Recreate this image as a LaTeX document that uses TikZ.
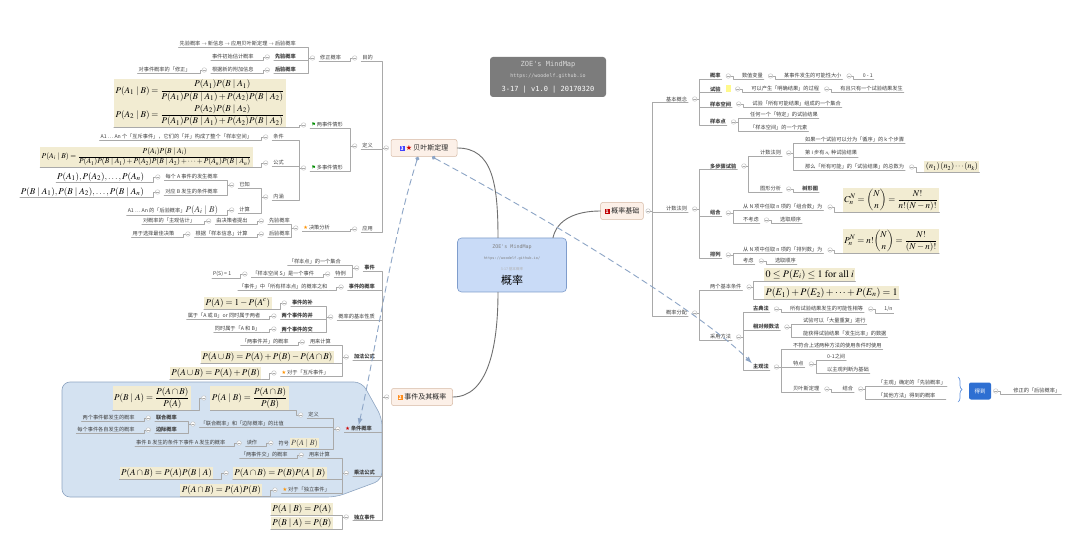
\documentclass[tikz,border=0pt]{standalone}
\usepackage{amsmath}
\usepackage{mathptmx}
\usepackage[no-math]{fontspec}
\setmainfont{Noto Sans CJK SC}
\newfontfamily\symf{DejaVu Sans}
\newfontfamily\monof{DejaVu Sans Mono}
\usetikzlibrary{positioning,arrows.meta,decorations.pathreplacing}

\definecolor{fmlbg}{HTML}{F2ECD2}
\definecolor{rootbg}{HTML}{C9DBF7}
\definecolor{rootbd}{HTML}{7F9DCC}
\definecolor{topbg}{HTML}{FCF0E8}
\definecolor{topbd}{HTML}{D6B9A4}
\definecolor{lnkc}{HTML}{A9A9A9}
\definecolor{curvec}{HTML}{6F6F6F}
\definecolor{dashc}{HTML}{8DA5C6}
\definecolor{zonebg}{HTML}{D4E2F1}
\definecolor{zonebd}{HTML}{8EA5C1}
\definecolor{logobg}{HTML}{7C7C7C}
\definecolor{getbg}{HTML}{2E6FD2}

\newcommand{\badge}[2]{{\setlength{\fboxsep}{1pt}\colorbox{#1}{\textcolor{white}{\fontsize{5}{5}\selectfont\bfseries #2}}}}
\newcommand{\rstar}{\textcolor{red!80!black}{\symf ★}}
\newcommand{\ystar}{\textcolor{orange!85!yellow}{\symf ★}}
\newcommand{\gflag}{\textcolor{green!55!black}{\symf ⚑}}

\tikzset{
  lnk/.style={draw=lnkc, line width=0.45pt},
  tp/.style={font=\fontsize{5.2}{6}\selectfont, text=black!75, inner sep=1pt,
    append after command={(\tikzlastnode.south west) edge[lnk] (\tikzlastnode.south east)}},
  tb/.style={tp, font=\fontsize{5.2}{6}\selectfont\bfseries},
  fm/.style={tp, text=black, font=\fontsize{9}{10}\selectfont},
  fml/.style={tp, fill=fmlbg, inner sep=1.5pt, text=black, font=\fontsize{9}{10}\selectfont},
  fold/.style={circle, draw=gray!55, fill=white, inner sep=0pt, minimum size=4.6pt,
    path picture={\draw[gray!65, line width=0.35pt]
      ([xshift=-1.3pt]path picture bounding box.center) -- ([xshift=1.3pt]path picture bounding box.center);}},
  topic/.style={draw=topbd, fill=topbg, rounded corners=2pt, line width=0.5pt,
    font=\fontsize{7}{8}\selectfont, text=black!85, inner xsep=4pt, minimum height=17pt},
  root/.style={draw=rootbd, fill=rootbg, rounded corners=4pt, line width=0.6pt,
    minimum width=109pt, minimum height=54pt, align=center, inner sep=1pt},
  logo/.style={fill=logobg, rounded corners=3pt, minimum width=116pt, minimum height=40pt,
    align=center, font=\monof, text=gray!30},
  get/.style={fill=getbg, text=white, rounded corners=2pt, minimum width=22pt,
    minimum height=17pt, font=\fontsize{5.5}{6}\selectfont},
  curve/.style={draw=curvec, line width=0.9pt},
  ref/.style={draw=dashc, line width=0.9pt, dash pattern=on 6pt off 4pt,
    arrows={Circle[length=4pt]-Latex[length=7pt,width=5pt]}},
}

\begin{document}
\begin{tikzpicture}[x=1pt, y=-1pt, line cap=round, line join=round]
\path[use as bounding box, fill=white] (0,0) rectangle (1080,556);

% Vùng nền xanh (条件概率, 乘法公式)
\draw[draw=zonebd, fill=zonebg, line width=0.6pt, rounded corners=8pt]
  (62,382) -- (362,382) -- (382,418) -- (382,480) -- (336,497) -- (62,497) -- cycle;

% Logo
\node[logo] (wm) at (548,77) {{\fontsize{7}{8}\selectfont ZOE's MindMap}\\[-1pt]
  {\fontsize{5}{6}\selectfont https://woodelf.github.io}\\[2pt]
  {\fontsize{7}{8}\selectfont\color{white} 3-17 | v1.0 | 20170320}};

% Nút trung tâm và các nhánh chính
\node[root] (gl0) at (512,265) {{\monof\fontsize{5}{6}\selectfont\color{gray} ZOE's MindMap}\\[-1pt]
  {\monof\fontsize{3.6}{4.5}\selectfont\color{gray} https://woodelf.github.io/}\\[-1pt]
  {\fontsize{3.6}{4.5}\selectfont\color{gray!60} 3-17 基本概率}\\[2pt]
  {\fontsize{11}{12}\selectfont 概率}};
\node[topic] (jc) at (622,211) {\badge{red!75!black}{1}\ 概率基础};
\node[topic, minimum width=66pt] (bys) at (424,148) {\badge{blue!75}{3}\,\rstar\,贝叶斯定理};
\node[topic, minimum width=61pt] (sj0) at (422,397) {\badge{orange!90}{2}\ 事件及其概率};

% ===== 概率基础 =====
\node[fold, right=2pt of jc] (fjc) {};
\node[tp, anchor=west] (jbgn) at (665,99) {基本概念};
\node[tp, anchor=west] (jsfz) at (665,209) {计数法则};
\node[tp, anchor=west] (glfp) at (665,313) {概率分配};

% 基本概念
\node[fold, right=4pt of jbgn] (fjbgn) {};
\node[tb, anchor=west] (gl) at (709,76) {概率};
\node[tb, anchor=west] (sy) at (709,89) {试验};
\node[tb, anchor=west] (ybkj) at (709,104) {样本空间};
\node[tb, anchor=west] (ybd) at (709,122) {样本点};
\node[fold, right=4pt of gl] (fgl) {};
\node[tp, right=10pt of fgl] (slbl) {数值变量};
\node[fold, right=4pt of slbl] (fslbl) {};
\node[tp, right=10pt of fslbl] (knx) {某事件发生的可能性大小};
\node[fold, right=4pt of knx] (fknx) {};
\node[tp, right=10pt of fknx] (lyi) {0 - 1};
\node[fill=yellow!45, inner sep=0pt, minimum width=5pt, minimum height=7pt, right=4pt of sy] (syb) {};
\node[fold, right=4pt of syb] (fsy) {};
\node[tp, right=10pt of fsy] (mqjg) {可以产生「明确结果」的过程};
\node[fold, right=4pt of mqjg] (fmqjg) {};
\node[tp, right=10pt of fmqjg] (yqzy) {有且只有一个试验结果发生};
\node[fold, right=4pt of ybkj] (fybkj) {};
\node[tp, right=10pt of fybkj] (kjjh) {试验「所有可能结果」组成的一个集合};
\node[fold, right=4pt of ybd] (fybd) {};
\node[tp, anchor=west] (tdjg) at (749,115) {任何一个「特定」的试验结果};
\node[tp, anchor=west] (yys) at (749,128) {「样本空间」的一个元素};

% 计数法则
\node[fold, right=4pt of jsfz] (fjsfz) {};
\node[tb, anchor=west] (dbz) at (709,166) {多步骤试验};
\node[tb, anchor=west] (zh) at (709,213) {组合};
\node[tb, anchor=west] (pl) at (709,255) {排列};
\node[fold, right=4pt of dbz] (fdbz) {};
\node[tp, anchor=west] (jsfz2) at (759,153) {计数法则};
\node[tp, anchor=west] (txfx) at (759,189) {图形分析};
\node[fold, right=4pt of jsfz2] (fjsfz2) {};
\node[tp, anchor=west] (kbz) at (804,140) {如果一个试验可以分为「循序」的 k 个步骤};
\node[tp, anchor=west] (nzj) at (804,153) {第 i 步有 $n_i$ 种试验结果};
\node[tp, anchor=west] (zs) at (804,167) {那么「所有可能」的「试验结果」的总数为};
\node[fold, right=4pt of zs] (fzs) {};
\node[fml, right=10pt of fzs, font=\fontsize{8}{9}\selectfont] (nk) {$(n_1)\,(n_2)\cdots(n_k)$};
\node[fold, right=4pt of txfx] (ftxfx) {};
\node[tb, right=10pt of ftxfx] (sxt) {树形图};
\node[fold, right=4pt of zh] (fzh) {};
\node[tp, anchor=west] (zhs) at (742,207) {从 N 项中任取 n 项的「组合数」为};
\node[tp, anchor=west] (bkl) at (742,220) {不考虑};
\node[fold, right=4pt of zhs] (fzhs) {};
\node[fml, right=10pt of fzhs, yshift=7pt] (czh) {$\displaystyle C_n^N=\binom{N}{n}=\frac{N!}{n!(N-n)!}$};
\node[fold, right=4pt of bkl] (fbkl) {};
\node[tp, right=10pt of fbkl] (sx1) {选取顺序};
\node[fold, right=4pt of pl] (fpl) {};
\node[tp, anchor=west] (pls) at (742,250) {从 N 项中任取 n 项的「排列数」为};
\node[tp, anchor=west] (kl) at (742,261) {考虑};
\node[fold, right=4pt of pls] (fpls) {};
\node[fml, right=10pt of fpls, yshift=9pt] (ppl) {$\displaystyle P_n^N=n!\binom{N}{n}=\frac{N!}{(N-n)!}$};
\node[fold, right=4pt of kl] (fkl) {};
\node[tp, right=10pt of fkl] (sx2) {选取顺序};

% 概率分配
\node[fold, right=4pt of glfp] (fglfp) {};
\node[tp, anchor=west] (ljtj) at (709,287) {两个基本条件};
\node[tp, anchor=west] (cyff) at (709,337) {采用方法};
\node[fold, right=4pt of ljtj] (fljtj) {};
\node[fml, anchor=west, font=\fontsize{10}{11}\selectfont] (tj1) at (764,275) {$0\le P(E_i)\le 1\ \mathrm{for\ all}\ i$};
\node[fml, anchor=west, font=\fontsize{10}{11}\selectfont] (tj2) at (764,293) {$P(E_1)+P(E_2)+\cdots+P(E_n)=1$};
\node[fold, right=4pt of cyff] (fcyff) {};
\node[tb, anchor=west] (gdf) at (752,309) {古典法};
\node[tb, anchor=west] (xdps) at (752,327) {相对频数法};
\node[tb, anchor=west] (zgf) at (752,367) {主观法};
\node[fold, right=4pt of gdf] (fgdf) {};
\node[tp, right=10pt of fgdf] (knxd) {所有试验结果发生的可能性相等};
\node[fold, right=4pt of knxd] (fknxd) {};
\node[tp, right=10pt of fknxd] (yfn) {1/n};
\node[fold, right=4pt of xdps] (fxdps) {};
\node[tp, anchor=west] (dlcf) at (802,321) {试验可以「大量重复」进行};
\node[tp, anchor=west] (fsbl) at (802,334) {能获得试验结果「发生比率」的数据};
\node[fold, right=4pt of zgf] (fzgf) {};
\node[tp, anchor=west] (bfh) at (792,346) {不符合上述两种方法的使用条件时使用};
\node[tp, anchor=west] (td) at (792,364) {特点};
\node[tp, anchor=west] (bys2) at (792,389) {贝叶斯定理};
\node[fold, right=4pt of td] (ftd) {};
\node[tp, anchor=west] (lyj) at (826,357) {0-1之间};
\node[tp, anchor=west] (zgpd) at (826,370) {以主观判断为基础};
\node[fold, right=4pt of bys2] (fbys2) {};
\node[tp, right=12pt of fbys2] (jh) {结合};
\node[fold, right=4pt of jh] (fjh) {};
\node[tp, anchor=west] (xygl) at (877,383) {「主观」确定的「先验概率」};
\node[tp, anchor=west] (qtff) at (877,396) {「其他方法」得到的概率};
\coordinate (bre) at (946,390);
\coordinate (brt) at (958,377);
\coordinate (brb) at (958,402);
\draw[lnk] (xygl.south east) -- (xygl.south east -| bre);
\draw[lnk] (qtff.south east) -- (qtff.south east -| bre);
\draw[decorate, decoration={brace, amplitude=4pt}, draw=getbg!75, line width=0.7pt] (brt) -- (brb);
\node[get] (dd) at (980,391) {得到};
\node[fold, right=2pt of dd] (fdd) {};
\node[tp, right=14pt of fdd] (hygl) {修正的「后验概率」};

% Nối nhánh phải
\foreach \a/\b in {fjc/jbgn,fjc/jsfz,fjc/glfp,fjbgn/gl,fjbgn/sy,fjbgn/ybkj,fjbgn/ybd,
    fgl/slbl,fslbl/knx,fknx/lyi,fsy/mqjg,fmqjg/yqzy,fybkj/kjjh,fybd/tdjg,fybd/yys,
    fjsfz/dbz,fjsfz/zh,fjsfz/pl,fdbz/jsfz2,fdbz/txfx,fjsfz2/kbz,fjsfz2/nzj,fjsfz2/zs,
    fzs/nk,ftxfx/sxt,fzh/zhs,fzh/bkl,fzhs/czh,fbkl/sx1,fpl/pls,fpl/kl,fpls/ppl,fkl/sx2,
    fglfp/ljtj,fglfp/cyff,fljtj/tj1,fljtj/tj2,fcyff/gdf,fcyff/xdps,fcyff/zgf,fgdf/knxd,
    fknxd/yfn,fxdps/dlcf,fxdps/fsbl,fzgf/bfh,fzgf/td,fzgf/bys2,ftd/lyj,ftd/zgpd,
    fbys2/jh,fjh/xygl,fjh/qtff,fdd/hygl}
  \draw[lnk] (\a.east) -- ++(2,0) |- (\b.south west);

% ===== 贝叶斯定理 =====
\node[fold, left=2pt of bys] (fbys) {};
\node[tp, anchor=east] (md) at (374,58) {目的};
\node[tp, anchor=east] (dy) at (374,146) {定义};
\node[tp, anchor=east] (yy) at (374,229) {应用};
\node[fold, left=4pt of md] (fmd) {};
\node[tp, left=10pt of fmd] (xzgl) {修正概率};
\node[fold, left=4pt of xzgl] (fxzgl) {};
\node[tp, anchor=east] (lc) at (297,44) {先验概率 $\to$ 新信息 $\to$ 应用贝叶斯定理 $\to$ 后验概率};
\node[tb, anchor=east] (xy1) at (297,57) {先验概率};
\node[tb, anchor=east] (hy1) at (297,70) {后验概率};
\node[fold, left=4pt of xy1] (fxy1) {};
\node[tp, left=10pt of fxy1] (csgj) {事件初始估计概率};
\node[fold, left=4pt of hy1] (fhy1) {};
\node[tp, left=10pt of fhy1] (fjxx) {根据新的附加信息};
\node[fold, left=4pt of fjxx] (ffjxx) {};
\node[tp, left=10pt of ffjxx] (xzh) {对事件概率的「修正」};

\node[fold, left=4pt of dy] (fdy) {};
\node[tp, anchor=east] (lsj) at (344,125) {\gflag\,两事件情形};
\node[tp, anchor=east] (dsj) at (344,168) {\gflag\,多事件情形};
\node[fold, left=4pt of lsj] (flsj) {};
\node[fml, anchor=east, align=left, font=\fontsize{9}{10}\selectfont] (lsjf) at (286,103)
  {$\displaystyle P(A_1\mid B)=\frac{P(A_1)P(B\mid A_1)}{P(A_1)P(B\mid A_1)+P(A_2)P(B\mid A_2)}$\\[2pt]
   $\displaystyle P(A_2\mid B)=\frac{P(A_2)P(B\mid A_2)}{P(A_1)P(B\mid A_1)+P(A_2)P(B\mid A_2)}$};
\node[fold, left=4pt of dsj] (fdsj) {};
\node[tp, anchor=east] (tj) at (285,137) {条件};
\node[tp, anchor=east] (gs) at (285,163) {公式};
\node[tp, anchor=east] (nh) at (285,197) {内涵};
\node[fold, left=4pt of tj] (ftj) {};
\node[tp, left=10pt of ftj] (hcsj) {A1 … An 个「互斥事件」，它们的「并」构成了整个「样本空间」};
\node[fold, left=4pt of gs] (fgs) {};
\node[fml, left=10pt of fgs, yshift=6pt, font=\fontsize{7.5}{8.5}\selectfont] (gsf)
  {$\displaystyle P(A_i\mid B)=\frac{P(A_i)P(B\mid A_i)}{P(A_1)P(B\mid A_1)+P(A_2)P(B\mid A_2)+\cdots+P(A_n)P(B\mid A_n)}$};
\node[fold, left=4pt of nh] (fnh) {};
\node[tp, anchor=east] (yz) at (251,185) {已知};
\node[tp, anchor=east] (js) at (251,210) {计算};
\node[fold, left=4pt of yz] (fyz) {};
\node[tp, anchor=east] (mgA) at (219,177) {每个 A 事件的发生概率};
\node[tp, anchor=east] (dyB) at (219,192) {对应 B 发生的条件概率};
\node[fold, left=4pt of mgA] (fmgA) {};
\node[fm, left=10pt of fmgA] (pai) {$P(A_1),P(A_2),\ldots,P(A_n)$};
\node[fold, left=4pt of dyB] (fdyB) {};
\node[fm, left=10pt of fdyB] (pbai) {$P(B\mid A_1),P(B\mid A_2),\ldots,P(B\mid A_n)$};
\node[fold, left=4pt of js] (fjs) {};
\node[tp, left=10pt of fjs] (hyjs) {A1 … An 的「后验概率」{\fontsize{9}{10}\selectfont$P(A_i\mid B)$}};

\node[fold, left=4pt of yy] (fyy) {};
\node[tp, anchor=east] (jcfx) at (331,228) {\ystar\,决策分析};
\node[fold, left=4pt of jcfx] (fjcfx) {};
\node[tp, anchor=east] (xy2) at (291,221) {先验概率};
\node[tp, anchor=east] (hy2) at (291,234) {后验概率};
\node[fold, left=4pt of xy2] (fxy2) {};
\node[tp, left=10pt of fxy2] (jczt) {由决策者提出};
\node[fold, left=4pt of jczt] (fjczt) {};
\node[tp, left=10pt of fjczt] (zggj) {对概率的「主观估计」};
\node[fold, left=4pt of hy2] (fhy2) {};
\node[tp, left=10pt of fhy2] (ybxx) {根据「样本信息」计算};
\node[fold, left=4pt of ybxx] (fybxx) {};
\node[tp, left=10pt of fybxx] (zjjc) {用于选择最佳决策};

% ===== 事件及其概率 =====
\node[fold, left=2pt of sj0] (fsj0) {};
\node[tb, anchor=east] (sj) at (376,268) {事件};
\node[tb, anchor=east] (sjgl) at (376,287) {事件的概率};
\node[tp, anchor=east] (jbxz) at (376,317) {概率的基本性质};
\node[tb, anchor=east] (jfgs) at (376,357) {加法公式};
\node[tb, anchor=east] (tjgl) at (373,429) {\rstar\,条件概率};
\node[tb, anchor=east] (cfgs) at (376,473) {乘法公式};
\node[tb, anchor=east] (dlsj) at (376,517) {独立事件};

\node[fold, left=4pt of sj] (fsj) {};
\node[tp, anchor=east] (ybjh) at (342,262) {「样本点」的一个集合};
\node[tp, anchor=east] (tl) at (347,274) {特例};
\node[fold, left=4pt of tl] (ftl) {};
\node[tp, left=10pt of ftl] (kjsj) {「样本空间 S」是一个事件};
\node[fold, left=4pt of kjsj] (fkjsj) {};
\node[tp, left=10pt of fkjsj] (ps1) {P(S) = 1};
\node[fold, left=4pt of sjgl] (fsjgl) {};
\node[tp, left=10pt of fsjgl] (ybzh) {「事件」中「所有样本点」的概率之和};

\node[fold, left=4pt of jbxz] (fjbxz) {};
\node[tb, anchor=east] (bu) at (314,303) {事件的补};
\node[tb, anchor=east] (bing) at (314,316) {两个事件的并};
\node[tb, anchor=east] (jiao) at (314,329) {两个事件的交};
\node[fold, left=4pt of bu] (fbu) {};
\node[fml, left=10pt of fbu] (pac) {$P(A)=1-P(A^c)$};
\node[fold, left=4pt of bing] (fbing) {};
\node[tp, left=10pt of fbing] (ahb) {属于「A 或 B」or 同时属于两者};
\node[fold, left=4pt of jiao] (fjiao) {};
\node[tp, left=10pt of fjiao] (ahb2) {同时属于「A 和 B」};

\node[fold, left=4pt of jfgs] (fjfgs) {};
\node[tp, anchor=east] (ylj1) at (332,342) {用来计算};
\node[fml, anchor=east] (jf1) at (334,357) {$P(A\cup B)=P(A)+P(B)-P(A\cap B)$};
\node[tp, anchor=east] (hc) at (330,373) {\ystar\,对于「互斥事件」};
\node[fold, left=4pt of ylj1] (fylj1) {};
\node[tp, left=10pt of fylj1] (lsb) {「两事件并」的概率};
\node[fold, left=4pt of hc] (fhc) {};
\node[fml, left=10pt of fhc] (jf2) {$P(A\cup B)=P(A)+P(B)$};

\node[fold, left=4pt of tjgl] (ftjgl) {};
\node[tp, anchor=east] (dy2) at (320,415) {定义};
\node[tp, anchor=east] (bz) at (285,424) {「联合概率」和「边际概率」的比值};
\node[tp, anchor=east] (fh) at (320,443) {符号 {\setlength{\fboxsep}{1pt}\colorbox{fmlbg}{\fontsize{8}{9}\selectfont$P(A\mid B)$}}};
\node[fold, left=4pt of dy2] (fdy2) {};
\node[fml, anchor=east] (tjA) at (289,398) {$\displaystyle P(A\mid B)=\frac{P(A\cap B)}{P(B)}$};
\node[fold, left=4pt of tjA] (ftjA) {};
\node[fml, left=10pt of ftjA] (tjB) {$\displaystyle P(B\mid A)=\frac{P(A\cap B)}{P(A)}$};
\node[fold, left=4pt of bz] (fbz) {};
\node[tb, anchor=east] (lhgl) at (178,418) {联合概率};
\node[tb, anchor=east] (bjgl) at (178,430) {边际概率};
\node[fold, left=4pt of lhgl] (flhgl) {};
\node[tp, left=10pt of flhgl] (ldfs) {两个事件都发生的概率};
\node[fold, left=4pt of bjgl] (fbjgl) {};
\node[tp, left=10pt of fbjgl] (gzfs) {每个事件各自发生的概率};
\node[fold, left=4pt of fh] (ffh) {};
\node[tp, left=10pt of ffh] (dz) {读作};
\node[fold, left=4pt of dz] (fdz) {};
\node[tp, left=10pt of fdz] (tjms) {事件 B 发生的条件下事件 A 发生的概率};

\node[fold, left=4pt of cfgs] (fcfgs) {};
\node[tp, anchor=east] (ylj2) at (331,455) {用来计算};
\node[fml, anchor=east] (cf1) at (327,473) {$P(A\cap B)=P(B)P(A\mid B)$};
\node[tp, anchor=east] (dl) at (331,490) {\ystar\,对于「独立事件」};
\node[fold, left=4pt of ylj2] (fylj2) {};
\node[tp, left=10pt of fylj2] (ljb) {「两事件交」的概率};
\node[fold, left=4pt of cf1] (fcf1) {};
\node[fml, left=10pt of fcf1] (cf2) {$P(A\cap B)=P(A)P(B\mid A)$};
\node[fold, left=4pt of dl] (fdl) {};
\node[fml, left=10pt of fdl] (cf3) {$P(A\cap B)=P(A)P(B)$};

\node[fold, left=4pt of dlsj] (fdlsj) {};
\node[fml, anchor=east] (dl1) at (333,509) {$P(A\mid B)=P(A)$};
\node[fml, anchor=east] (dl2) at (333,523) {$P(B\mid A)=P(B)$};

% Nối nhánh trái
\foreach \a/\b in {fbys/md,fbys/dy,fbys/yy,fmd/xzgl,fxzgl/lc,fxzgl/xy1,fxzgl/hy1,fxy1/csgj,
    fhy1/fjxx,ffjxx/xzh,fdy/lsj,fdy/dsj,flsj/lsjf,fdsj/tj,fdsj/gs,fdsj/nh,ftj/hcsj,fgs/gsf,
    fnh/yz,fnh/js,fyz/mgA,fyz/dyB,fmgA/pai,fdyB/pbai,fjs/hyjs,fyy/jcfx,fjcfx/xy2,fjcfx/hy2,
    fxy2/jczt,fjczt/zggj,fhy2/ybxx,fybxx/zjjc,
    fsj0/sj,fsj0/sjgl,fsj0/jbxz,fsj0/jfgs,fsj0/tjgl,fsj0/cfgs,fsj0/dlsj,fsj/ybjh,fsj/tl,
    ftl/kjsj,fkjsj/ps1,fsjgl/ybzh,fjbxz/bu,fjbxz/bing,fjbxz/jiao,fbu/pac,fbing/ahb,
    fjiao/ahb2,fjfgs/ylj1,fjfgs/jf1,fjfgs/hc,fylj1/lsb,fhc/jf2,ftjgl/dy2,ftjgl/bz,ftjgl/fh,
    fdy2/tjA,ftjA/tjB,fbz/lhgl,fbz/bjgl,flhgl/ldfs,fbjgl/gzfs,ffh/dz,fdz/tjms,
    fcfgs/ylj2,fcfgs/cf1,fcfgs/dl,fylj2/ljb,fcf1/cf2,fdl/cf3,fdlsj/dl1,fdlsj/dl2}
  \draw[lnk] (\a.west) -- ++(-2,0) |- (\b.south east);

% Đường cong từ nút trung tâm
\draw[curve] (bys.east) .. controls +(35,0) and +(0,-55) .. ([xshift=-14pt]gl0.north);
\draw[curve] (jc.west) .. controls +(-25,0) and +(4,-18) .. ([xshift=41pt]gl0.north);
\draw[curve] (sj0.east) .. controls +(35,0) and +(0,55) .. ([xshift=-14pt]gl0.south);

% Mũi tên liên hệ (nét đứt)
\draw[ref] ([xshift=-6pt]bys.south) .. controls +(-28,90) and +(18,-80) .. (tjgl.north);
\draw[ref] ([xshift=8pt]bys.south) .. controls +(130,70) and +(-50,-50) .. (zgf.north west);
\end{tikzpicture}
\end{document}
